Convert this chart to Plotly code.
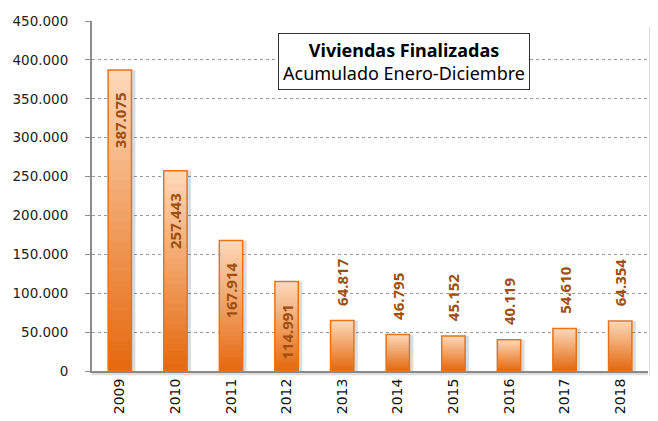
import plotly.graph_objects as go

years = ["2009", "2010", "2011", "2012", "2013", "2014", "2015", "2016", "2017", "2018"]
viviendas = [387075, 257443, 167914, 114991, 64817, 46795, 45152, 40119, 54610, 64354]
label_pos = ["inside"] * 4 + ["outside"] * 6

title_text = "<b>Viviendas Finalizadas</b><br>Acumulado Enero-Diciembre"
yticks = list(range(0, 450001, 50000))

NB = "\u00a0"
label_tpl = [("%{y:,d}" + NB * 5) if p == "inside" else (NB * 3 + "%{y:,d}") for p in label_pos]

fig = go.Figure()

BW = 0.42
# drop shadow
fig.add_trace(go.Bar(x=years, y=viviendas, width=BW, offset=-BW / 2 + 0.07,
                     marker=dict(color="rgba(60,60,60,0.18)", line=dict(width=0)),
                     hoverinfo="skip"))

# gradient simulation: light top -> dark orange bottom
top = (253, 216, 184)
bot = (229, 106, 16)
N = 30
for k in range(N):
    f = 1 - k / N
    t = k / (N - 1)
    c = tuple(int(top[i] + (bot[i] - top[i]) * t) for i in range(3))
    fig.add_trace(go.Bar(x=years, y=[v * f for v in viviendas], width=BW,
                         marker=dict(color="rgb(%d,%d,%d)" % c, line=dict(width=0)),
                         hoverinfo="skip"))

# outline + labels
fig.add_trace(go.Bar(x=years, y=viviendas, width=BW,
                     marker=dict(color="rgba(0,0,0,0)", line=dict(color="#E8731C", width=1.5)),
                     texttemplate=label_tpl,
                     textposition=label_pos, textangle=-90,
                     insidetextanchor="end", constraintext="none", cliponaxis=False,
                     textfont=dict(family="Noto Sans", size=15, color="#A04E0E", weight="bold")))

fig.update_layout(
    width=650, height=413,
    margin=dict(l=84, r=10, t=13, b=50, autoexpand=False),
    barmode="overlay",
    showlegend=False,
    separators=",.",
    paper_bgcolor="white", plot_bgcolor="white",
    font=dict(family="DejaVu Sans", size=14, color="#222"),
    xaxis=dict(type="category", showline=True, linecolor="#8c8c8c", linewidth=2,
               tickangle=-90, ticks="", tickfont=dict(family="DejaVu Sans", size=14, color="#111"),
               showgrid=False, automargin=False),
    yaxis=dict(range=[0, 450000], tickvals=yticks, tickformat=",d",
               showline=True, linecolor="#8c8c8c", linewidth=2,
               ticks="outside", ticklen=5, tickcolor="#8c8c8c", tickwidth=1,
               ticklabelstandoff=14,
               showgrid=True, gridcolor="#999", griddash="dot", gridwidth=1,
               tickfont=dict(family="DejaVu Sans", size=13.5, color="#222"),
               zeroline=False, automargin=False),
    shapes=[
        dict(type="rect", xref="paper", yref="paper", x0=0.0, x1=1.0, y0=-0.012, y1=-0.004,
             fillcolor="rgba(90,90,90,0.2)", line=dict(width=0), layer="above"),
    ],
    annotations=[
        dict(text=title_text, xref="paper", yref="paper", x=0.562, y=0.966,
             xanchor="center", yanchor="top", showarrow=False, align="center",
             font=dict(family="Noto Sans", size=18, color="#000"),
             bordercolor="#333", borderwidth=1, borderpad=4, bgcolor="white"),
        dict(text="", xref="paper", yref="paper", x=1.002, y=0.985,
             xanchor="left", yanchor="top", showarrow=False,
             width=5, height=348, borderpad=0, bgcolor="rgba(110,110,110,0.5)"),
    ],
)

fig.write_html("out.html")
